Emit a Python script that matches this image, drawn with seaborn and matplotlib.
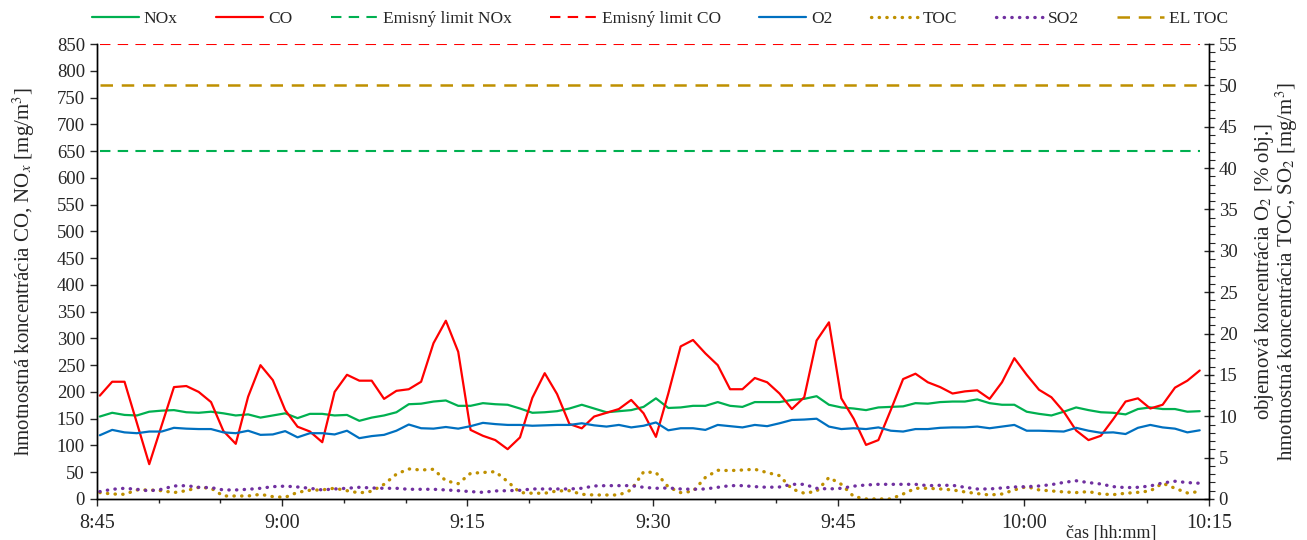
import pandas as pd
import matplotlib
matplotlib.use('Agg')
import matplotlib.pyplot as plt
import matplotlib.dates as mdates
from matplotlib.ticker import MultipleLocator, FuncFormatter
import seaborn as sns

# --- data (one value per minute) ---
cas_start = '2024-01-01 08:45:15'
pocet = 90

co = [193, 219, 219, 142, 65, 137, 209, 211, 200, 181,
      127, 103, 191, 250, 222, 166, 135, 126, 106, 200,
      232, 221, 221, 187, 202, 205, 219, 291, 333, 275,
      129, 118, 110, 93, 115, 189, 235, 196, 140, 132,
      154, 161, 168, 185, 160, 116, 197, 285, 297, 272,
      250, 205, 205, 226, 218, 197, 168, 190, 296, 330,
      188, 150, 101, 110, 166, 224, 234, 218, 209, 197,
      201, 203, 187, 218, 263, 232, 204, 190, 163, 128,
      110, 118, 149, 182, 188, 169, 176, 208, 221, 240]

nox = [154, 161, 157, 156, 163, 165, 166, 162, 161, 163,
       160, 156, 158, 152, 156, 160, 151, 159, 159, 156,
       157, 146, 152, 156, 162, 177, 178, 182, 184, 174,
       174, 179, 177, 176, 169, 161, 162, 164, 169, 176,
       169, 162, 164, 166, 172, 188, 170, 171, 174, 174,
       181, 174, 172, 181, 181, 181, 185, 187, 192, 176,
       171, 169, 166, 171, 172, 173, 179, 178, 181, 182,
       182, 186, 179, 176, 176, 163, 159, 156, 163, 171,
       166, 162, 161, 158, 168, 171, 168, 168, 163, 164]

o2 = [7.7, 8.35, 8.05, 7.95, 8.15, 8.15, 8.6, 8.5, 8.45, 8.45,
      8.05, 7.95, 8.25, 7.75, 7.8, 8.2, 7.45, 7.95, 7.95, 7.8,
      8.25, 7.35, 7.6, 7.75, 8.25, 9.0, 8.55, 8.5, 8.7, 8.5,
      8.8, 9.2, 9.05, 8.95, 8.95, 8.85, 8.9, 8.95, 8.95, 9.15,
      8.9, 8.75, 8.95, 8.65, 8.85, 9.25, 8.3, 8.55, 8.55, 8.35,
      8.95, 8.8, 8.65, 8.95, 8.8, 9.15, 9.55, 9.6, 9.7, 8.75,
      8.45, 8.55, 8.45, 8.65, 8.25, 8.15, 8.45, 8.45, 8.6, 8.65,
      8.65, 8.75, 8.55, 8.75, 8.95, 8.25, 8.25, 8.2, 8.15, 8.6,
      8.25, 8.0, 8.05, 7.85, 8.6, 8.95, 8.65, 8.5, 8.05, 8.3]

toc = [0.77, 0.6, 0.56, 1.09, 1.09, 1.0, 0.77, 1.0, 1.4, 1.3,
       0.36, 0.36, 0.36, 0.56, 0.28, 0.2, 0.8, 1.05, 1.1, 1.3,
       1.0, 0.73, 0.93, 1.77, 3.0, 3.63, 3.5, 3.59, 2.2, 1.85,
       3.1, 3.2, 3.3, 2.1, 0.77, 0.69, 0.69, 0.97, 1.0, 0.56,
       0.48, 0.48, 0.48, 1.09, 3.27, 3.19, 1.45, 0.77, 0.93, 2.6,
       3.47, 3.43, 3.5, 3.59, 3.19, 2.82, 1.21, 0.69, 0.93, 2.6,
       1.77, 0.3, 0.0, 0.0, 0.0, 0.6, 1.29, 1.29, 1.21, 1.09,
       0.85, 0.65, 0.48, 0.6, 1.09, 1.49, 1.09, 0.97, 0.85, 0.77,
       0.89, 0.6, 0.52, 0.69, 0.8, 0.97, 1.9, 1.29, 0.73, 0.89]

so2 = [0.89, 1.17, 1.29, 1.17, 0.97, 1.17, 1.57, 1.61, 1.41, 1.37,
       1.09, 1.09, 1.17, 1.29, 1.49, 1.55, 1.45, 1.29, 1.09, 1.21,
       1.29, 1.41, 1.33, 1.29, 1.29, 1.17, 1.17, 1.17, 1.09, 1.0,
       0.89, 0.8, 0.97, 1.0, 1.05, 1.21, 1.21, 1.21, 1.21, 1.29,
       1.57, 1.61, 1.61, 1.61, 1.41, 1.29, 1.33, 1.21, 1.17, 1.21,
       1.41, 1.61, 1.61, 1.49, 1.41, 1.45, 1.77, 1.77, 1.29, 1.21,
       1.29, 1.55, 1.69, 1.77, 1.77, 1.77, 1.77, 1.61, 1.65, 1.65,
       1.41, 1.21, 1.21, 1.33, 1.45, 1.49, 1.57, 1.73, 2.0, 2.2,
       1.98, 1.81, 1.49, 1.37, 1.41, 1.57, 1.94, 2.14, 1.98, 1.9]

limit_nox = 650
limit_co = 850
limit_toc = 50

df = pd.DataFrame({
    'cas': pd.date_range(cas_start, periods=pocet, freq='min'),
    'CO': co, 'NOx': nox, 'O2': o2, 'TOC': toc, 'SO2': so2,
})
df['EL_NOx'] = limit_nox
df['EL_CO'] = limit_co
df['EL_TOC'] = limit_toc

# --- style ---
sns.set_style('ticks')
plt.rcParams['font.family'] = ['Liberation Serif', 'DejaVu Serif']
plt.rcParams['mathtext.fontset'] = 'stix'
plt.rcParams['font.size'] = 13

c_green = '#00B050'
c_red = '#FF0000'
c_blue = '#0070C0'
c_gold = '#BF9000'
c_purple = '#7030A0'
dash = (0, (5, 3.5))
dot = (0, (0.1, 2.2))

fig = plt.figure(figsize=(13.07, 5.4), dpi=100)
ax = fig.add_axes([0.074, 0.076, 0.851, 0.8425])
ax2 = ax.twinx()

# left axis: CO, NOx and their limits
sns.lineplot(data=df, x='cas', y='NOx', ax=ax, color=c_green, linewidth=1.6, label='NOx')
sns.lineplot(data=df, x='cas', y='CO', ax=ax, color=c_red, linewidth=1.6, label='CO')
sns.lineplot(data=df, x='cas', y='EL_NOx', ax=ax, color=c_green, linewidth=1.5,
             linestyle=dash, label='Emisný limit NOx')
sns.lineplot(data=df, x='cas', y='EL_CO', ax=ax, color=c_red, linewidth=1.5,
             linestyle=dash, label='Emisný limit CO')

# right axis: O2, TOC, SO2 and TOC limit
sns.lineplot(data=df, x='cas', y='O2', ax=ax2, color=c_blue, linewidth=1.6, label='O2')
sns.lineplot(data=df, x='cas', y='TOC', ax=ax2, color=c_gold, linewidth=2.4,
             linestyle=dot, dash_capstyle='round', label='TOC')
sns.lineplot(data=df, x='cas', y='SO2', ax=ax2, color=c_purple, linewidth=2.4,
             linestyle=dot, dash_capstyle='round', label='SO2')
sns.lineplot(data=df, x='cas', y='EL_TOC', ax=ax2, color=c_gold, linewidth=1.8,
             linestyle=dash, label='EL TOC')

# axes limits and ticks
t0 = pd.Timestamp('2024-01-01 08:45')
t1 = pd.Timestamp('2024-01-01 10:15')
ax.set_xlim(t0, t1)
ax.set_ylim(0, 850)
ax2.set_ylim(0, 55)
ax.yaxis.set_major_locator(MultipleLocator(50))
ax2.yaxis.set_major_locator(MultipleLocator(5))
ax2.yaxis.set_minor_locator(MultipleLocator(1))
ax.xaxis.set_major_locator(mdates.MinuteLocator(byminute=[0, 15, 30, 45]))
ax.xaxis.set_minor_locator(mdates.MinuteLocator(byminute=range(0, 60, 5)))


def fmt_cas(v, pos):
    d = mdates.num2date(v)
    return f'{d.hour}:{d.minute:02d}'


ax.xaxis.set_major_formatter(FuncFormatter(fmt_cas))

ax.tick_params(axis='y', which='major', labelsize=13.5, length=5, width=1, direction='out')
ax.tick_params(axis='x', which='major', labelsize=14.5, length=5, width=1,
               direction='out', pad=6)
ax.tick_params(axis='x', which='minor', length=3, width=1, direction='out')
ax2.tick_params(axis='y', which='major', labelsize=13.5, length=7, width=1, direction='inout')
ax2.tick_params(axis='y', which='minor', length=4, width=0.8, direction='out')

for a in (ax, ax2):
    a.spines['top'].set_visible(False)
    for s in ('left', 'right', 'bottom'):
        a.spines[s].set_color('black')
        a.spines[s].set_linewidth(1)

ax.set_ylabel('hmotnostná koncentrácia CO, NO$_x$ [mg/m$^3$]', fontsize=15, labelpad=14)
ax2.set_ylabel('objemová koncentrácia O$_2$ [% obj.]\n'
               'hmotnostná koncentrácia TOC, SO$_2$ [mg/m$^3$]', fontsize=15,
               linespacing=0.9, labelpad=11)
ax.set_xlabel('čas [hh:mm]', fontsize=13)
ax.xaxis.set_label_coords(0.912, -0.058)

# legend in one row above the plot
h1, l1 = ax.get_legend_handles_labels()
h2, l2 = ax2.get_legend_handles_labels()
ax.get_legend().remove()
ax2.get_legend().remove()
handles = h1 + h2
labels = l1 + l2
fig.legend(handles, labels, loc='upper center', bbox_to_anchor=(0.505, 1.008),
           ncol=8, frameon=False, fontsize=12.5, handlelength=2.7,
           columnspacing=2.2, handletextpad=0.3)

fig.savefig('out.png', dpi=100)
